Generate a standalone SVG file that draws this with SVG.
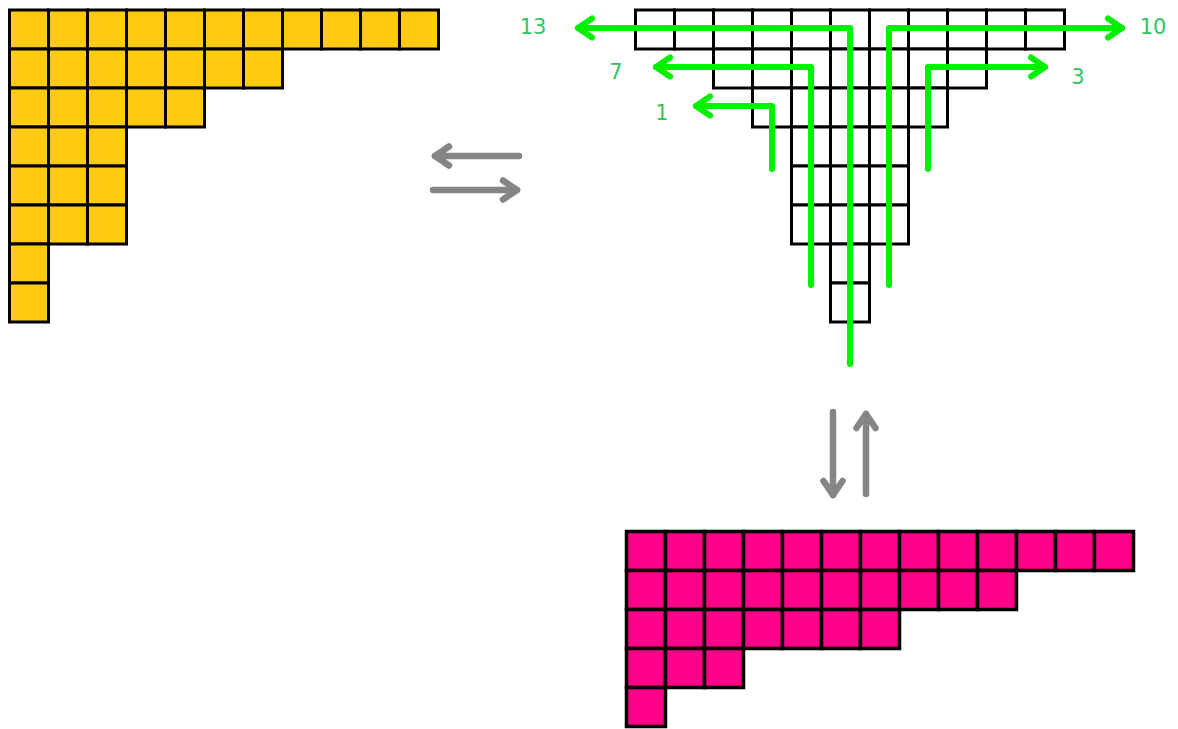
<svg xmlns="http://www.w3.org/2000/svg" xmlns:xlink="http://www.w3.org/1999/xlink" width="1178" height="729" viewBox="0 0 1178 729">
  <style>
    .yellow use { fill: #fecb10; stroke: #000; stroke-width: 3; }
    .plain use { fill: #fff; stroke: #000; stroke-width: 3; }
    .pink use { fill: #ff0088; stroke: #000; stroke-width: 3.5; }
    .hook { fill: none; stroke: #00f000; stroke-width: 6; stroke-linecap: round; stroke-linejoin: round; marker-end: url(#greenHead); }
    .swap { fill: none; stroke: #858585; stroke-width: 6.5; stroke-linecap: round; marker-end: url(#grayHead); }
    .lbl { font-family: "DejaVu Sans", Verdana, sans-serif; font-size: 21px; fill: #33c466; text-anchor: middle; }
  </style>
  <defs>
    <rect id="c" width="39" height="39"/>
    <marker id="greenHead" markerUnits="userSpaceOnUse" orient="auto" markerWidth="40" markerHeight="40" viewBox="-20 -20 40 40" refX="0" refY="0" overflow="visible">
      <path d="M-14 -9.5 L0 0 L-14 9.5" fill="none" stroke="#00f000" stroke-width="6" stroke-linecap="round" stroke-linejoin="round"/>
    </marker>
    <marker id="grayHead" markerUnits="userSpaceOnUse" orient="auto" markerWidth="40" markerHeight="40" viewBox="-20 -20 40 40" refX="0" refY="0" overflow="visible">
      <path d="M-14 -9.5 L0 0 L-14 9.5" fill="none" stroke="#858585" stroke-width="6.5" stroke-linecap="round" stroke-linejoin="round"/>
    </marker>
  </defs>
  <rect width="1178" height="729" fill="#fff"/>

  <!-- partition 11,7,5,3,3,3,1,1 -->
  <g id="yellow-partition" class="yellow">
    <use href="#c" x="9.5" y="10"/><use href="#c" x="48.5" y="10"/><use href="#c" x="87.5" y="10"/><use href="#c" x="126.5" y="10"/><use href="#c" x="165.5" y="10"/><use href="#c" x="204.5" y="10"/><use href="#c" x="243.5" y="10"/><use href="#c" x="282.5" y="10"/><use href="#c" x="321.5" y="10"/><use href="#c" x="360.5" y="10"/><use href="#c" x="399.5" y="10"/>
    <use href="#c" x="9.5" y="49"/><use href="#c" x="48.5" y="49"/><use href="#c" x="87.5" y="49"/><use href="#c" x="126.5" y="49"/><use href="#c" x="165.5" y="49"/><use href="#c" x="204.5" y="49"/><use href="#c" x="243.5" y="49"/>
    <use href="#c" x="9.5" y="88"/><use href="#c" x="48.5" y="88"/><use href="#c" x="87.5" y="88"/><use href="#c" x="126.5" y="88"/><use href="#c" x="165.5" y="88"/>
    <use href="#c" x="9.5" y="127"/><use href="#c" x="48.5" y="127"/><use href="#c" x="87.5" y="127"/>
    <use href="#c" x="9.5" y="166"/><use href="#c" x="48.5" y="166"/><use href="#c" x="87.5" y="166"/>
    <use href="#c" x="9.5" y="205"/><use href="#c" x="48.5" y="205"/><use href="#c" x="87.5" y="205"/>
    <use href="#c" x="9.5" y="244"/>
    <use href="#c" x="9.5" y="283"/>
  </g>

  <!-- same rows, centred on one column -->
  <g id="centred-partition" class="plain">
    <use href="#c" x="635.5" y="10"/><use href="#c" x="674.5" y="10"/><use href="#c" x="713.5" y="10"/><use href="#c" x="752.5" y="10"/><use href="#c" x="791.5" y="10"/><use href="#c" x="830.5" y="10"/><use href="#c" x="869.5" y="10"/><use href="#c" x="908.5" y="10"/><use href="#c" x="947.5" y="10"/><use href="#c" x="986.5" y="10"/><use href="#c" x="1025.5" y="10"/>
    <use href="#c" x="713.5" y="49"/><use href="#c" x="752.5" y="49"/><use href="#c" x="791.5" y="49"/><use href="#c" x="830.5" y="49"/><use href="#c" x="869.5" y="49"/><use href="#c" x="908.5" y="49"/><use href="#c" x="947.5" y="49"/>
    <use href="#c" x="752.5" y="88"/><use href="#c" x="791.5" y="88"/><use href="#c" x="830.5" y="88"/><use href="#c" x="869.5" y="88"/><use href="#c" x="908.5" y="88"/>
    <use href="#c" x="791.5" y="127"/><use href="#c" x="830.5" y="127"/><use href="#c" x="869.5" y="127"/>
    <use href="#c" x="791.5" y="166"/><use href="#c" x="830.5" y="166"/><use href="#c" x="869.5" y="166"/>
    <use href="#c" x="791.5" y="205"/><use href="#c" x="830.5" y="205"/><use href="#c" x="869.5" y="205"/>
    <use href="#c" x="830.5" y="244"/>
    <use href="#c" x="830.5" y="283"/>
  </g>

  <!-- partition 13,10,7,3,1 -->
  <g id="pink-partition" class="pink">
    <use href="#c" x="626.5" y="531.5"/><use href="#c" x="665.5" y="531.5"/><use href="#c" x="704.5" y="531.5"/><use href="#c" x="743.5" y="531.5"/><use href="#c" x="782.5" y="531.5"/><use href="#c" x="821.5" y="531.5"/><use href="#c" x="860.5" y="531.5"/><use href="#c" x="899.5" y="531.5"/><use href="#c" x="938.5" y="531.5"/><use href="#c" x="977.5" y="531.5"/><use href="#c" x="1016.5" y="531.5"/><use href="#c" x="1055.5" y="531.5"/><use href="#c" x="1094.5" y="531.5"/>
    <use href="#c" x="626.5" y="570.5"/><use href="#c" x="665.5" y="570.5"/><use href="#c" x="704.5" y="570.5"/><use href="#c" x="743.5" y="570.5"/><use href="#c" x="782.5" y="570.5"/><use href="#c" x="821.5" y="570.5"/><use href="#c" x="860.5" y="570.5"/><use href="#c" x="899.5" y="570.5"/><use href="#c" x="938.5" y="570.5"/><use href="#c" x="977.5" y="570.5"/>
    <use href="#c" x="626.5" y="609.5"/><use href="#c" x="665.5" y="609.5"/><use href="#c" x="704.5" y="609.5"/><use href="#c" x="743.5" y="609.5"/><use href="#c" x="782.5" y="609.5"/><use href="#c" x="821.5" y="609.5"/><use href="#c" x="860.5" y="609.5"/>
    <use href="#c" x="626.5" y="648.5"/><use href="#c" x="665.5" y="648.5"/><use href="#c" x="704.5" y="648.5"/>
    <use href="#c" x="626.5" y="687.5"/>
  </g>

  <!-- connectors: hook paths and swap arrows -->
  <g id="connectors">
    <path class="hook" d="M850 364 V28 H578"/>
    <path class="hook" d="M889 285 V28 H1122"/>
    <path class="hook" d="M811 285 V67 H656"/>
    <path class="hook" d="M928 169 V67 H1045"/>
    <path class="hook" d="M772 169 V106 H696"/>
    <path class="swap" d="M519 156 H435"/>
    <path class="swap" d="M433 190 H517"/>
    <path class="swap" d="M833 412 V495"/>
    <path class="swap" d="M866 494 V414"/>
  </g>

  <g id="labels">
    <text class="lbl" x="533" y="34">13</text>
    <text class="lbl" x="1153" y="34">10</text>
    <text class="lbl" x="616" y="79">7</text>
    <text class="lbl" x="1078" y="84">3</text>
    <text class="lbl" x="662" y="120">1</text>
  </g>
</svg>
